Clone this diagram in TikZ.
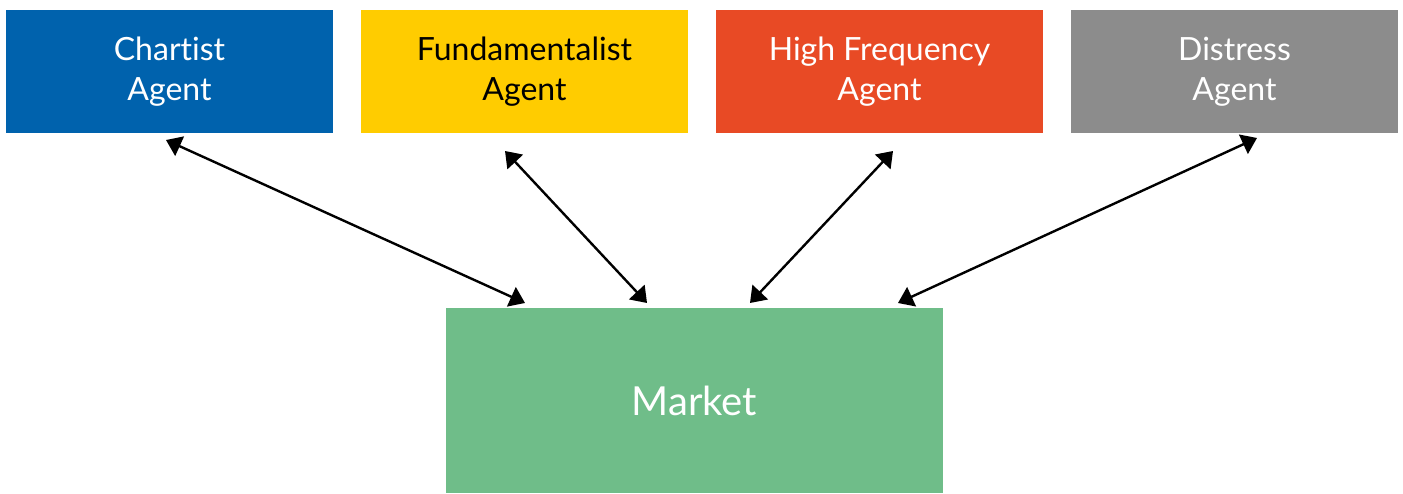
\documentclass[tikz,border=0pt]{standalone}
\usepackage{fontspec}
\setmainfont{Lato}[Ligatures={NoCommon}]
\usetikzlibrary{arrows.meta}
\definecolor{chartblue}{HTML}{0062AD}
\definecolor{fundyellow}{HTML}{FFCC00}
\definecolor{hfred}{HTML}{E84A25}
\definecolor{distgray}{HTML}{8C8C8C}
\definecolor{marketgreen}{HTML}{6FBD89}
\tikzset{
  agent/.style={rectangle, inner sep=0pt, minimum width=327pt, minimum height=123pt,
    align=center, font=\fontsize{32}{40}\selectfont},
  link/.style={line width=2.4pt, {Triangle[length=15pt,width=21pt]}-{Triangle[length=15pt,width=21pt]}}
}
\begin{document}
\begin{tikzpicture}[x=1pt,y=-1pt]
  \useasboundingbox (0,0) rectangle (1403,494);
  \node[agent, fill=chartblue, text=white] (chartist) at (169.5,71.5) {Chartist\\Agent};
  \node[agent, fill=fundyellow, text=black] (fund) at (524.5,71.5) {Fundamentalist\\Agent};
  \node[agent, fill=hfred, text=white] (hf) at (879.5,71.5) {High Frequency\\Agent};
  \node[agent, fill=distgray, text=white] (distress) at (1234.5,71.5) {Distress\\Agent};
  \node[rectangle, inner sep=0pt, minimum width=497pt, minimum height=185pt,
    fill=marketgreen, text=white, font=\fontsize{40}{48}\selectfont] (market) at (694.5,400.5) {Market};
  % arrow end points just off the boxes
  \coordinate (c1) at (166,140);
  \coordinate (m1) at (525,303);
  \coordinate (c2) at (505,151);
  \coordinate (m2) at (647,303);
  \coordinate (c3) at (893,151);
  \coordinate (m3) at (750,303);
  \coordinate (c4) at (1257,138);
  \coordinate (m4) at (898,303);
  \draw[link] (c1) -- (m1);
  \draw[link] (c2) -- (m2);
  \draw[link] (c3) -- (m3);
  \draw[link] (c4) -- (m4);
\end{tikzpicture}
\end{document}
